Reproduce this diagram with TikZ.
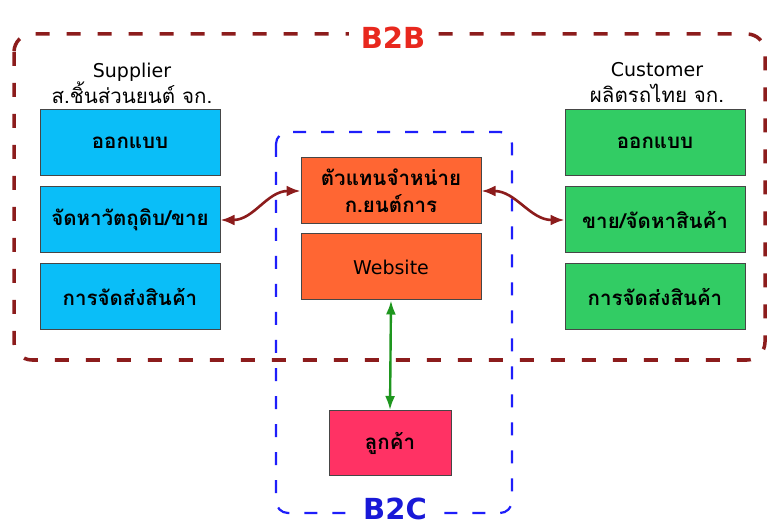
\documentclass[tikz,border=0pt]{standalone}
\usepackage{fontspec}
\setmainfont{DejaVu Sans}
\newfontfamily\thaifont[Script=Thai]{Loma}
\usepackage{tikz}
\usetikzlibrary{arrows.meta,positioning}
\definecolor{supcol}{RGB}{10,190,248}
\definecolor{cuscol}{RGB}{50,204,100}
\definecolor{agentcol}{RGB}{255,102,51}
\definecolor{clientcol}{RGB}{255,50,100}
\definecolor{boxline}{RGB}{70,70,70}
\definecolor{b2bline}{RGB}{140,28,28}
\definecolor{b2btext}{RGB}{232,40,30}
\definecolor{b2cline}{RGB}{30,30,250}
\definecolor{b2ctext}{RGB}{25,25,215}
\definecolor{webgreen}{RGB}{30,150,30}

\begin{document}
\begin{tikzpicture}[
      x=1pt, y=-1pt, node distance=77pt, on grid,
      box/.style={rectangle, draw=boxline, line width=1pt, minimum width=180pt, minimum height=66pt,
                  align=center, font=\thaifont\bfseries\fontsize{20.5}{27}\selectfont},
      supbox/.style={box, fill=supcol},
      cusbox/.style={box, fill=cuscol},
      agentbox/.style={box, fill=agentcol},
      clientbox/.style={box, fill=clientcol, minimum width=122pt, minimum height=65pt},
      title/.style={align=center, font=\fontsize{19}{26}\selectfont},
      zonetag/.style={fill=white, inner xsep=12pt, inner ysep=0pt, font=\bfseries\fontsize{29}{30}\selectfont},
      dealarrow/.style={b2bline, line width=2.6pt, {Latex[length=14pt,width=11pt]}-{Latex[length=14pt,width=11pt]}},
      webarrow/.style={webgreen, line width=2.4pt, {Latex[length=14pt,width=10pt]}-{Latex[length=14pt,width=10pt]}}]

      \useasboundingbox[fill=white] (0,0) rectangle (768,526);

      % Zones
      \draw[b2cline, line width=2.2pt, dash pattern=on 13pt off 15pt, rounded corners=12pt]
            (276,132) rectangle (512,513);
      \draw[b2bline, line width=3.5pt, dash pattern=on 14pt off 17pt, rounded corners=18pt]
            (14,34) rectangle (765,360);

      % Nodes
      \node[supbox] (sup1) at (130,143) {ออกแบบ};
      \node[supbox, below=of sup1] (sup2) {จัดหาวัตถุดิบ/ขาย};
      \node[supbox, below=of sup2] (sup3) {การจัดส่งสินค้า};

      \node[cusbox] (cus1) at (655,143) {ออกแบบ};
      \node[cusbox, below=of cus1] (cus2) {ขาย/จัดหาสินค้า};
      \node[cusbox, below=of cus2] (cus3) {การจัดส่งสินค้า};

      \node[agentbox] (agent) at (391,191) {ตัวแทนจำหน่าย\\ก.ยนต์การ};
      \node[agentbox, below=76pt of agent, font=\fontsize{19}{20}\selectfont] (web) {Website};
      \node[clientbox] (client) at (390,443) {ลูกค้า};

      %Titles
      \node[title] (supname) at (132,83) {Supplier\\{\thaifont\fontsize{20.5}{26}\selectfont ส.ชิ้นส่วนยนต์ จก.}};
      \node[title] (cusname) at (657,83) {Customer\\{\thaifont\fontsize{20.5}{26}\selectfont ผลิตรถไทย จก.}};

      % Edges
      \draw[dealarrow] (sup2.east) to[out=0, in=180] (agent.west);
      \draw[dealarrow] (agent.east) to[out=0, in=180] (cus2.west);
      \draw[webarrow] (web.south) -- (client.north);

      % Zone tags
      \node[zonetag, text=b2btext] (b2b) at (393,38) {B2B};
      \node[zonetag, text=b2ctext] (b2c) at (395,509) {B2C};

    \end{tikzpicture}
\end{document}
